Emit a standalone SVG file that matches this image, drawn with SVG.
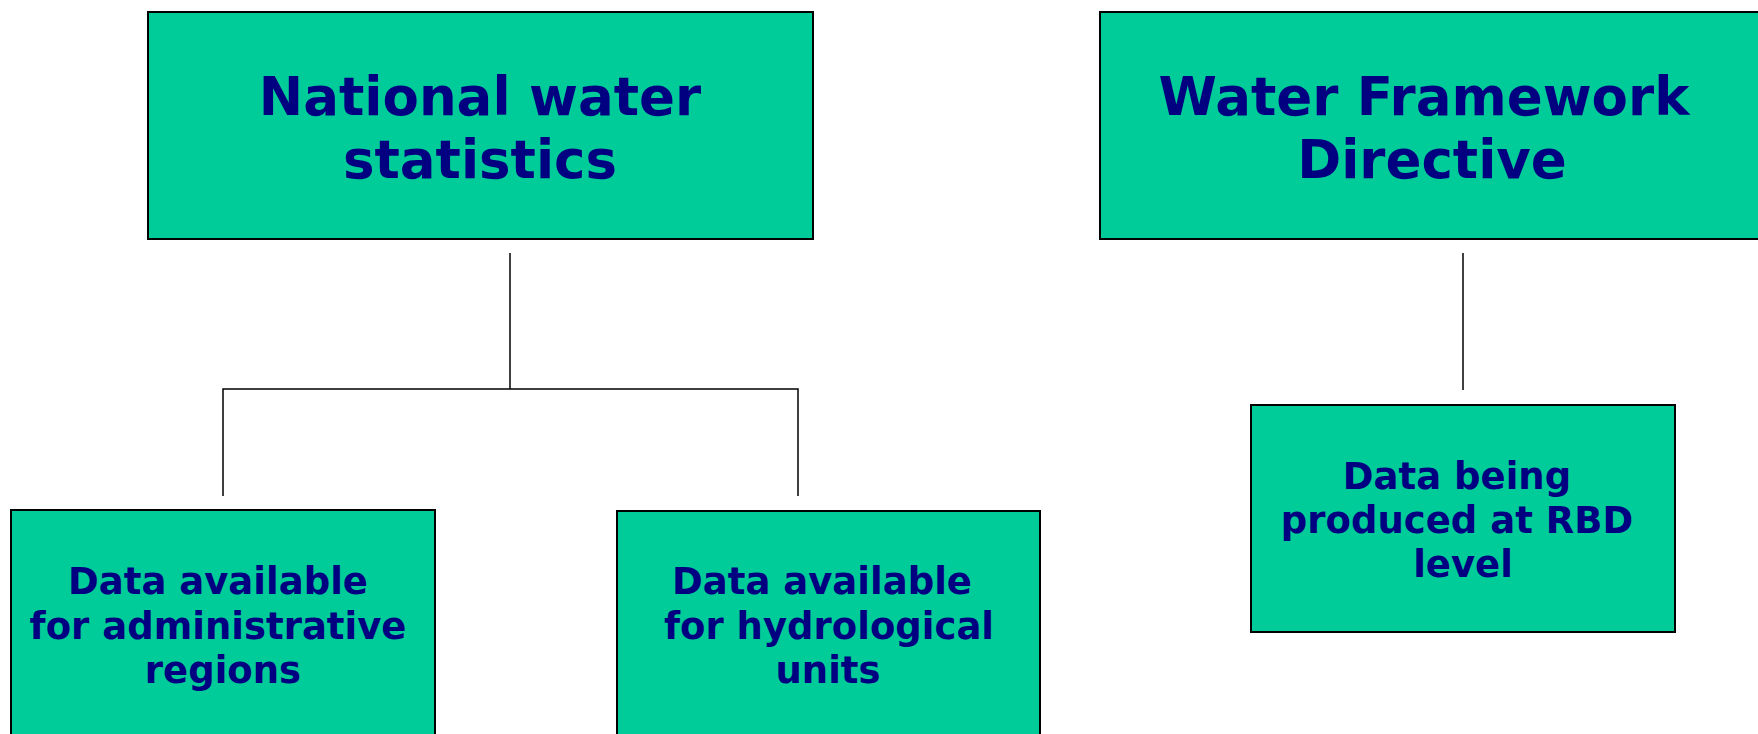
<svg xmlns="http://www.w3.org/2000/svg" width="1758" height="734" viewBox="0 0 1758 734">
<style>
.box{fill:#00CC99;stroke:#000;stroke-width:2}
.t{font-family:"DejaVu Sans","Verdana",sans-serif;font-weight:bold;fill:#000080;text-anchor:middle}
.big{font-size:53px}
.sm{font-size:37px}
.con{stroke:#000;stroke-width:1.5;fill:none}
</style>
<rect width="1758" height="734" fill="#fff"/>
<g id="connectors">
<line class="con" x1="510" y1="253" x2="510" y2="389"/>
<polyline class="con" points="223,496 223,389 798,389 798,496"/>
<line class="con" x1="1463" y1="253" x2="1463" y2="390"/>
</g>
<g id="national">
<rect class="box" x="148" y="12" width="665" height="227"/>
<text class="t big" x="480" y="115">National water</text>
<text class="t big" x="480" y="178">statistics</text>
</g>
<g id="wfd">
<rect class="box" x="1100" y="12" width="670" height="227"/>
<text class="t big" x="1424" y="115">Water Framework</text>
<text class="t big" x="1432" y="178">Directive</text>
</g>
<g id="admin">
<rect class="box" x="11" y="510" width="424" height="240"/>
<text class="t sm" x="218" y="594">Data available</text>
<text class="t sm" x="218" y="639">for administrative</text>
<text class="t sm" x="223" y="683">regions</text>
</g>
<g id="hydro">
<rect class="box" x="617" y="511" width="423" height="240"/>
<text class="t sm" x="822" y="594">Data available</text>
<text class="t sm" x="829" y="639">for hydrological</text>
<text class="t sm" x="828" y="683">units</text>
</g>
<g id="rbd">
<rect class="box" x="1251" y="405" width="424" height="227"/>
<text class="t sm" x="1457" y="489">Data being</text>
<text class="t sm" x="1457" y="533">produced at RBD</text>
<text class="t sm" x="1463" y="577">level</text>
</g>
</svg>
